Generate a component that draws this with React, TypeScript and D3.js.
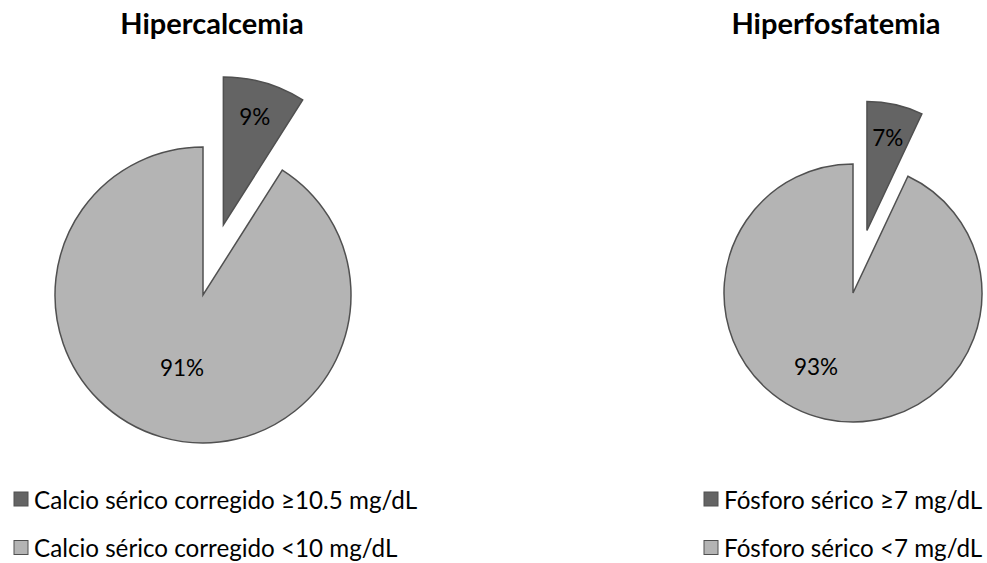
import React from "react";
import * as d3 from "d3";

const titles = ["Hipercalcemia", "Hiperfosfatemia"];
const calcioLabels = ["Calcio sérico corregido ≥10.5 mg/dL", "Calcio sérico corregido <10 mg/dL"];
const calcioValues = [9, 91];
const fosforoLabels = ["Fósforo sérico ≥7 mg/dL", "Fósforo sérico <7 mg/dL"];
const fosforoValues = [7, 93];
const colors = ["#646464", "#b4b4b4"];

const W = 987;
const H = 563;
const FONT = "Lato, 'Open Sans', sans-serif";

type PieProps = {
  title: string;
  labels: string[];
  values: number[];
  cx: number;
  cy: number;
  r: number;
  explode: number;
  titleX: number;
  legendX: number;
  labelFr: number[];
  labelShift: number[];
};

function Pie({ title, labels, values, cx, cy, r, explode, titleX, legendX, labelFr, labelShift }: PieProps) {
  const pie = d3.pie<number>().sort(null).value((d) => d)(values);
  const arc = d3.arc<d3.PieArcDatum<number>>().innerRadius(0).outerRadius(r);
  return (
    <g>
      <text x={titleX} y={34} textAnchor="middle" fontFamily={FONT} fontWeight="bold" fontSize={29} fill="#000">
        {title}
      </text>
      {pie.map((p, i) => {
        const mid = (p.startAngle + p.endAngle) / 2;
        const off = i === 0 ? explode : 0;
        const ox = cx + Math.sin(mid) * off;
        const oy = cy - Math.cos(mid) * off;
        const la = mid + (labelShift[i] * Math.PI) / 180;
        const lr = r * labelFr[i];
        const lx = Math.sin(la) * lr;
        const ly = -Math.cos(la) * lr;
        return (
          <g key={i} transform={`translate(${ox},${oy})`}>
            <path d={arc(p) || ""} fill={colors[i]} stroke="#505050" strokeWidth={1.5} strokeLinejoin="miter" />
            <text x={lx} y={ly} textAnchor="middle" dominantBaseline="central" fontFamily={FONT} fontSize={22.5} fill="#000">
              {values[i]}%
            </text>
          </g>
        );
      })}
      {labels.map((l, i) => (
        <g key={l}>
          <rect x={legendX} y={492 + i * 48.5} width={14} height={14} fill={colors[i]} stroke="#505050" strokeWidth={1} />
          <text x={legendX + 20} y={499 + i * 48.5} dominantBaseline="central" fontFamily={FONT} fontSize={24.2} fill="#000">
            {l}
          </text>
        </g>
      ))}
    </g>
  );
}

export default function App() {
  return (
    <svg width={W} height={H} style={{ position: "absolute", left: 0, top: 0, background: "#fff" }}>
      <Pie
        title={titles[0]}
        labels={calcioLabels}
        values={calcioValues}
        cx={203}
        cy={295}
        r={148}
        explode={73}
        titleX={212}
        legendX={14}
        labelFr={[0.76, 0.51]}
        labelShift={[0, 0]}
      />
      <Pie
        title={titles[1]}
        labels={fosforoLabels}
        values={fosforoValues}
        cx={853}
        cy={293}
        r={129}
        explode={64}
        titleX={836}
        legendX={704}
        labelFr={[0.74, 0.64]}
        labelShift={[0, 14]}
      />
    </svg>
  );
}
